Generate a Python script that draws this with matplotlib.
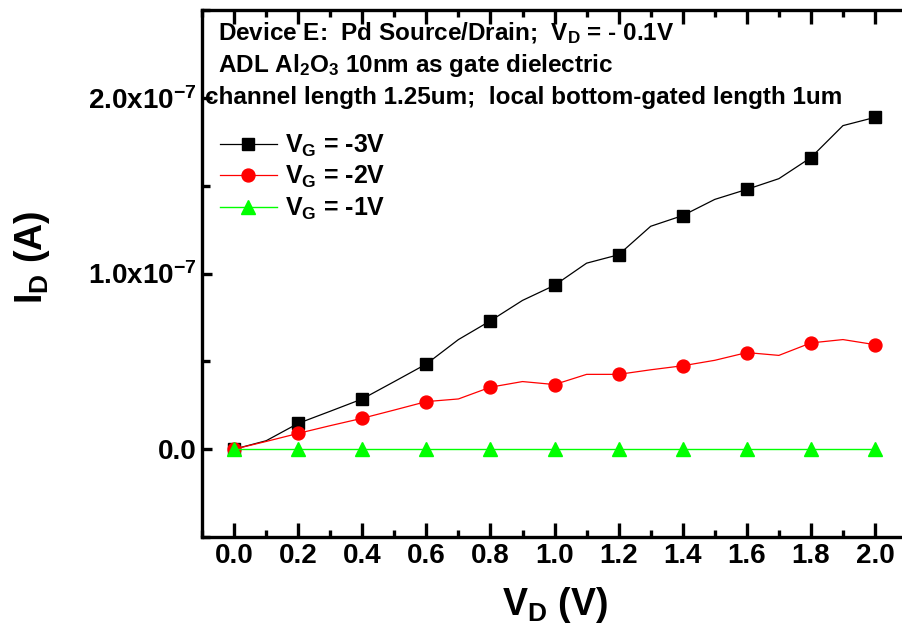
import matplotlib
matplotlib.use("Agg")
import matplotlib.pyplot as plt
from matplotlib.ticker import MultipleLocator, FixedLocator
import numpy as np

plt.rcParams['font.family'] = ['Liberation Sans', 'DejaVu Sans']
plt.rcParams['font.weight'] = 'bold'
plt.rcParams['mathtext.fontset'] = 'custom'
plt.rcParams['mathtext.rm'] = 'Liberation Sans:bold'
plt.rcParams['mathtext.bf'] = 'Liberation Sans:bold'
plt.rcParams['mathtext.it'] = 'Liberation Sans:bold'
plt.rcParams['mathtext.default'] = 'rm'

# Drain voltage sweep (V)
vd = [0.0, 0.1, 0.2, 0.3, 0.4, 0.5, 0.6, 0.7, 0.8, 0.9, 1.0,
      1.1, 1.2, 1.3, 1.4, 1.5, 1.6, 1.7, 1.8, 1.9, 2.0]

# Drain current in units of 1e-8 A for each gate voltage
id_vg_m3 = [0.0, 0.48, 1.47, 2.16, 2.86, 3.85, 4.85, 6.24, 7.31, 8.47, 9.33,
            10.59, 11.07, 12.69, 13.30, 14.22, 14.79, 15.40, 16.60, 18.42, 18.89]
id_vg_m2 = [0.0, 0.44, 0.90, 1.34, 1.76, 2.23, 2.71, 2.86, 3.53, 3.85, 3.68,
            4.26, 4.26, 4.52, 4.75, 5.06, 5.50, 5.34, 6.05, 6.24, 5.95]
id_vg_m1 = [0.0] * 21

series_labels = ['$V_G$ = -3V', '$V_G$ = -2V', '$V_G$ = -1V']

x_ticks = [0.0, 0.2, 0.4, 0.6, 0.8, 1.0, 1.2, 1.4, 1.6, 1.8, 2.0]
y_ticks = [0.0, 1.0e-7, 2.0e-7]
y_tick_labels = ['0.0', '1.0x10$^{-7}$', '2.0x10$^{-7}$']

fig = plt.figure(figsize=(9.02, 6.27), dpi=100)
ax = fig.add_axes([0.224, 0.1435, 0.7816, 0.8405])

scale = 1e-8
ax.plot(vd, np.array(id_vg_m3) * scale, color='black', lw=0.9,
        marker='s', ms=8.8, markevery=2, label=series_labels[0])
ax.plot(vd, np.array(id_vg_m2) * scale, color='red', lw=0.9,
        marker='o', ms=9.3, markevery=2, label=series_labels[1])
ax.plot(vd, np.array(id_vg_m1) * scale, color='#00ff00', lw=1.0,
        marker='^', ms=9.8, markevery=2, label=series_labels[2])

ax.set_xlim(-0.1, 2.1)
ax.set_ylim(-0.5e-7, 2.5e-7)

ax.xaxis.set_major_locator(FixedLocator(x_ticks))
ax.xaxis.set_minor_locator(MultipleLocator(0.1))
ax.set_xticklabels([f'{v:.1f}' for v in x_ticks])
ax.yaxis.set_major_locator(FixedLocator(y_ticks))
ax.yaxis.set_minor_locator(MultipleLocator(0.5e-7))
ax.set_yticklabels(y_tick_labels)

for s in ax.spines.values():
    s.set_linewidth(2.4)

ax.tick_params(axis='both', which='both', direction='in', labelsize=20, width=2.4)
ax.tick_params(axis='x', which='major', length=10, pad=4, top=True)
ax.tick_params(axis='x', which='minor', length=5, top=True)
ax.tick_params(axis='y', which='major', length=7, pad=4)
ax.tick_params(axis='y', which='minor', length=6)
for lab in ax.get_xticklabels() + ax.get_yticklabels():
    lab.set_fontweight('bold')

ax.set_xlabel('$V_D$ (V)', fontsize=27, fontweight='bold', labelpad=12)
ax.set_ylabel('$I_D$ (A)', fontsize=27, fontweight='bold')
ax.yaxis.set_label_coords(-0.213, 0.53)

ax.text(0.0227, 0.943, 'Device E:  Pd Source/Drain;  $V_D$ = - 0.1V',
        transform=ax.transAxes, fontsize=17.5, fontweight='bold', va='baseline')
ax.text(0.0227, 0.882, 'ADL Al$_2$O$_3$ 10nm as gate dielectric',
        transform=ax.transAxes, fontsize=17.5, fontweight='bold', va='baseline')
ax.text(0.004, 0.8216, 'channel length 1.25um;  local bottom-gated length 1um',
        transform=ax.transAxes, fontsize=17.5, fontweight='bold', va='baseline')

leg = ax.legend(loc='upper left', bbox_to_anchor=(0.0, 0.80), frameon=False,
                prop={'size': 18, 'weight': 'bold'}, handlelength=2.3,
                handletextpad=0.3, labelspacing=0.2, borderaxespad=0.3)

fig.savefig('out.png', dpi=100)
